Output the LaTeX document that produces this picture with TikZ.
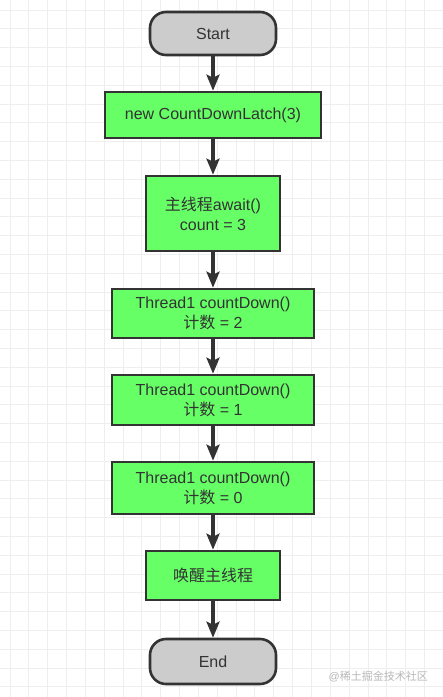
\documentclass[tikz,border=0pt]{standalone}
\usepackage{fontspec}
\setmainfont{Liberation Sans}
\newfontfamily\cjk{Noto Sans CJK SC}
\usetikzlibrary{arrows.meta}
\definecolor{boxgreen}{HTML}{66FF66}
\definecolor{termgray}{HTML}{CCCCCC}
\definecolor{edgedark}{HTML}{333333}
\definecolor{gridgray}{HTML}{EEEEEE}
\tikzset{
  gridline/.style={draw=gridgray, line width=0.9pt},
  procbox/.style={draw=edgedark, line width=2.6pt, fill=boxgreen, text=edgedark,
    font=\fontsize{16}{20}\selectfont, align=center, inner sep=0pt},
  termbox/.style={draw=edgedark, line width=2.6pt, fill=termgray, text=edgedark,
    rounded corners=16pt, font=\fontsize{16}{20}\selectfont, align=center,
    minimum width=126pt, inner sep=0pt},
  flow/.style={draw=edgedark, line width=3.2pt,
    -{Stealth[length=16pt, width=13pt, inset=3pt]}},
  mark wm/.style={text=black!28, font=\fontsize{11}{13}\selectfont, inner sep=0pt}
}
\begin{document}
\begin{tikzpicture}[x=1pt, y=-1pt]
\useasboundingbox (0,0) rectangle (443,697);
\fill[white] (0,0) rectangle (443,697);
\foreach \k in {0,...,22} {
  \draw[gridline] ({10+18.84*\k},0) -- ({10+18.84*\k},697);
}
\foreach \k in {0,...,36} {
  \draw[gridline] (0,{10+18.8*\k}) -- (443,{10+18.8*\k});
}
\node[termbox, minimum height=43pt] (start) at (213,33.5) {Start};
\node[procbox, minimum width=216pt, minimum height=46pt] (latch) at (213,115) {new CountDownLatch(3)};
\node[procbox, minimum width=134pt, minimum height=75pt] (await) at (213,213.5) {{\cjk 主线程}await()\\count = 3};
\node[procbox, minimum width=202pt, minimum height=49pt] (cd2) at (213,313.5) {Thread1 countDown()\\{\cjk 计数} = 2};
\node[procbox, minimum width=202pt, minimum height=50pt] (cd1) at (213,400) {Thread1 countDown()\\{\cjk 计数} = 1};
\node[procbox, minimum width=202pt, minimum height=52pt] (cd0) at (213,488) {Thread1 countDown()\\{\cjk 计数} = 0};
\node[procbox, minimum width=134pt, minimum height=49pt] (wake) at (213,575.5) {\cjk 唤醒主线程};
\node[termbox, minimum height=45pt] (stop) at (213,661.5) {End};
\draw[flow] (start) -- (latch);
\draw[flow] (latch) -- (await);
\draw[flow] (await) -- (cd2);
\draw[flow] (cd2) -- (cd1);
\draw[flow] (cd1) -- (cd0);
\draw[flow] (cd0) -- (wake);
\draw[flow] (wake) -- (stop);
\node[mark wm, anchor=east] (wm) at (428,677) {@{\cjk 稀土掘金技术社区}};
\end{tikzpicture}
\end{document}
